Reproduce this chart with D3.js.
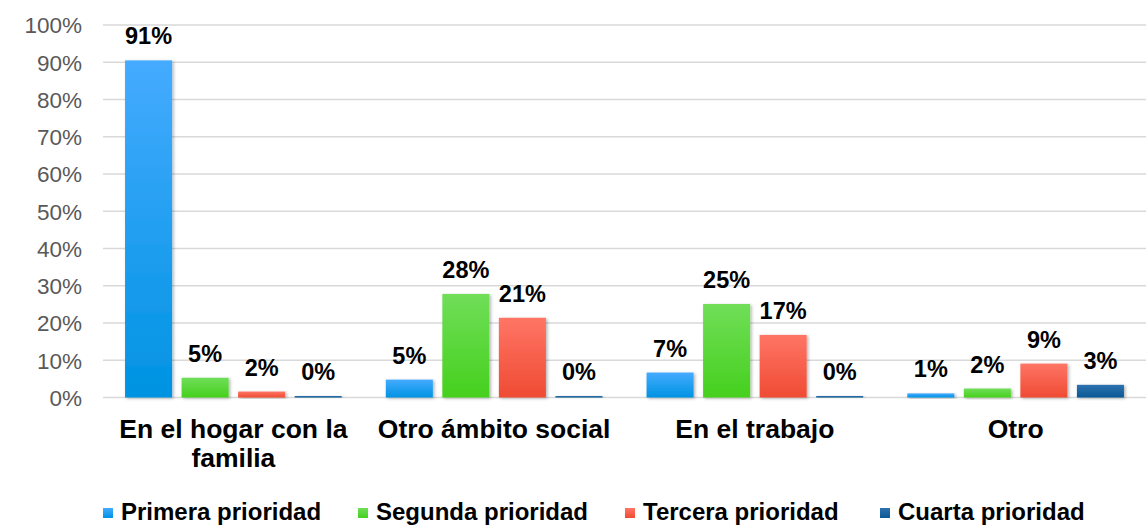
<!DOCTYPE html>
<html>
<head>
<meta charset="utf-8">
<script src="https://cdn.jsdelivr.net/npm/d3@7"></script>
<style>
  body { margin: 0; background: #fff; }
  svg { display: block; font-family: Arial, "Liberation Sans", sans-serif; }
</style>
</head>
<body>
<svg id="chart" width="1148" height="526"></svg>
<script>
// categories on the x axis (each can wrap onto several lines)
const categories = ['En el hogar con la familia', 'Otro ámbito social', 'En el trabajo', 'Otro'];
const categoryLines = [['En el hogar con la', 'familia'], ['Otro ámbito social'], ['En el trabajo'], ['Otro']];
const series = ['Primera prioridad', 'Segunda prioridad', 'Tercera prioridad', 'Cuarta prioridad'];
// percent values per series, in category order
const primera = [90.5, 4.8, 6.7, 1.1];
const segunda = [5.3, 27.8, 25.1, 2.4];
const tercera = [1.6, 21.4, 16.8, 9.1];
const cuarta = [0.4, 0.4, 0.4, 3.4];
const yTicks = [0, 10, 20, 30, 40, 50, 60, 70, 80, 90, 100];

const values = [primera, segunda, tercera, cuarta];
const colors = [
  ['#45abff', '#0093e2'],
  ['#70de58', '#46d01e'],
  ['#ff7565', '#ef4b33'],
  ['#2e72ae', '#0a5996']
];

const svg = d3.select('#chart');
const margin = {left: 103, right: 2, top: 25, bottom: 128};
const width = 1148, height = 526;

const x0 = d3.scaleBand().domain(categories).range([margin.left, width - margin.right]);
const x1 = d3.scaleBand().domain(series).range([0, x0.bandwidth()]).paddingInner(0.168).paddingOuter(0.39);
const y = d3.scaleLinear().domain([0, 100]).range([height - margin.bottom - 0.5, margin.top]);

const defs = svg.append('defs');
colors.forEach((c, i) => {
  const g = defs.append('linearGradient').attr('id', 'grad' + i)
    .attr('x1', 0).attr('y1', 0).attr('x2', 0).attr('y2', 1);
  g.append('stop').attr('offset', '0%').attr('stop-color', c[0]);
  g.append('stop').attr('offset', '100%').attr('stop-color', c[1]);
});
defs.append('filter').attr('id', 'shadow').attr('x', '-20%').attr('y', '-20%').attr('width', '140%').attr('height', '140%')
  .append('feDropShadow').attr('dx', 1.5).attr('dy', 1).attr('stdDeviation', 1.5)
  .attr('flood-color', '#000').attr('flood-opacity', 0.3);

// gridlines
svg.append('g').selectAll('line').data(yTicks).join('line')
  .attr('x1', margin.left).attr('x2', width - margin.right)
  .attr('y1', d => y(d)).attr('y2', d => y(d))
  .attr('stroke', '#d9d9d9').attr('stroke-width', 1.5);

// y axis labels
const yAxis = svg.append('g').attr('transform', 'translate(82,0)')
  .call(d3.axisLeft(y).tickValues(yTicks).tickSize(0).tickPadding(0).tickFormat(d => d + '%'));
yAxis.select('.domain').remove();
yAxis.selectAll('text').attr('font-size', 22.5).attr('fill', '#595959')
  .attr('font-family', 'Arial, "Liberation Sans", sans-serif').attr('dy', '0.35em');

// bars
const groups = svg.append('g').selectAll('g').data(categories).join('g')
  .attr('transform', d => `translate(${x0(d)},0)`);

groups.each(function(cat, ci) {
  const g = d3.select(this);
  const rows = series.map((s, si) => ({s, si, v: values[si][ci]}));
  g.selectAll('rect').data(rows).join('rect')
    .attr('x', d => x1(d.s))
    .attr('y', d => y(d.v))
    .attr('width', x1.bandwidth())
    .attr('height', d => y(0) - y(d.v))
    .attr('fill', d => `url(#grad${d.si})`)
    .attr('filter', 'url(#shadow)');
  g.selectAll('text').data(rows).join('text')
    .attr('x', d => x1(d.s) + x1.bandwidth() / 2)
    .attr('y', d => y(d.v) - 16)
    .attr('text-anchor', 'middle')
    .attr('font-size', 23.5).attr('font-weight', 'bold').attr('fill', '#000')
    .text(d => Math.round(d.v) + '%');
});

// category labels
svg.append('g').selectAll('text').data(categories).join('text')
  .attr('x', d => x0(d) + x0.bandwidth() / 2)
  .attr('y', 438)
  .attr('text-anchor', 'middle')
  .attr('font-size', 26.5).attr('font-weight', 'bold').attr('fill', '#000')
  .each(function(d, i) {
    d3.select(this).selectAll('tspan').data(categoryLines[i]).join('tspan')
      .attr('x', x0(d) + x0.bandwidth() / 2)
      .attr('dy', (t, j) => j === 0 ? 0 : 29)
      .text(t => t);
  });

// legend
const legendX = [103, 358, 625, 880];
const legend = svg.append('g').selectAll('g').data(series).join('g')
  .attr('transform', (d, i) => `translate(${legendX[i]},508)`);
legend.append('rect').attr('width', 10).attr('height', 10)
  .attr('fill', (d, i) => `url(#grad${i})`);
legend.append('text').attr('x', 18).attr('y', 11.5)
  .attr('font-size', 24).attr('font-weight', 'bold').attr('fill', '#000')
  .text(d => d);
</script>
</body>
</html>
